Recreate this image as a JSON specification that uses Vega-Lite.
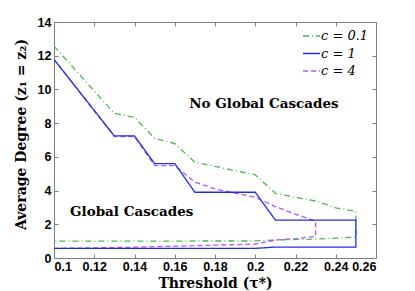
{
  "$schema": "https://vega.github.io/schema/vega-lite/v6.json",
  "autosize": {"type": "none"},
  "padding": {"left": 54, "top": 22, "right": 39, "bottom": 33},
  "width": 322,
  "height": 236,
  "background": "white",
  "config": {
    "view": {"stroke": null},
    "axis": {"grid": false, "domainColor": "#7f7f7f", "tickColor": "#7f7f7f", "domainWidth": 1, "tickWidth": 1, "labelFont": "Liberation Sans", "labelFontWeight": "bold", "labelFontSize": 12.5, "labelColor": "black", "titleFont": "DejaVu Serif", "titleFontWeight": "bold", "titleFontSize": 14, "titleColor": "black"}
  },
  "layer": [
    {
      "data": {"values": [
        {"c": "c = 0.1", "i": 1, "tau": 0.10, "z": 12.57},
        {"c": "c = 0.1", "i": 2, "tau": 0.13, "z": 8.58},
        {"c": "c = 0.1", "i": 3, "tau": 0.14, "z": 8.34},
        {"c": "c = 0.1", "i": 4, "tau": 0.15, "z": 7.1},
        {"c": "c = 0.1", "i": 5, "tau": 0.16, "z": 6.78},
        {"c": "c = 0.1", "i": 6, "tau": 0.17, "z": 5.68},
        {"c": "c = 0.1", "i": 7, "tau": 0.20, "z": 4.94},
        {"c": "c = 0.1", "i": 8, "tau": 0.21, "z": 3.84},
        {"c": "c = 0.1", "i": 9, "tau": 0.22, "z": 3.6},
        {"c": "c = 0.1", "i": 10, "tau": 0.23, "z": 3.38},
        {"c": "c = 0.1", "i": 11, "tau": 0.24, "z": 2.98},
        {"c": "c = 0.1", "i": 12, "tau": 0.25, "z": 2.77},
        {"c": "c = 0.1", "i": 13, "tau": 0.25, "z": 1.25},
        {"c": "c = 0.1", "i": 14, "tau": 0.24, "z": 1.18},
        {"c": "c = 0.1", "i": 15, "tau": 0.23, "z": 1.12},
        {"c": "c = 0.1", "i": 16, "tau": 0.21, "z": 1.07},
        {"c": "c = 0.1", "i": 17, "tau": 0.20, "z": 1.01},
        {"c": "c = 0.1", "i": 18, "tau": 0.10, "z": 1.0},
        {"c": "c = 4", "i": 1, "tau": 0.10, "z": 11.78},
        {"c": "c = 4", "i": 2, "tau": 0.13, "z": 7.2},
        {"c": "c = 4", "i": 3, "tau": 0.14, "z": 7.2},
        {"c": "c = 4", "i": 4, "tau": 0.15, "z": 5.48},
        {"c": "c = 4", "i": 5, "tau": 0.16, "z": 5.48},
        {"c": "c = 4", "i": 6, "tau": 0.17, "z": 4.5},
        {"c": "c = 4", "i": 7, "tau": 0.18, "z": 4.1},
        {"c": "c = 4", "i": 8, "tau": 0.19, "z": 3.85},
        {"c": "c = 4", "i": 9, "tau": 0.20, "z": 3.6},
        {"c": "c = 4", "i": 10, "tau": 0.21, "z": 3.05},
        {"c": "c = 4", "i": 11, "tau": 0.22, "z": 2.6},
        {"c": "c = 4", "i": 12, "tau": 0.23, "z": 2.18},
        {"c": "c = 4", "i": 13, "tau": 0.23, "z": 1.28},
        {"c": "c = 4", "i": 14, "tau": 0.22, "z": 1.15},
        {"c": "c = 4", "i": 15, "tau": 0.21, "z": 1.07},
        {"c": "c = 4", "i": 16, "tau": 0.20, "z": 0.83},
        {"c": "c = 4", "i": 17, "tau": 0.18, "z": 0.76},
        {"c": "c = 4", "i": 18, "tau": 0.16, "z": 0.7},
        {"c": "c = 4", "i": 19, "tau": 0.14, "z": 0.64},
        {"c": "c = 4", "i": 20, "tau": 0.12, "z": 0.6},
        {"c": "c = 4", "i": 21, "tau": 0.10, "z": 0.57},
        {"c": "c = 1", "i": 1, "tau": 0.10, "z": 11.78},
        {"c": "c = 1", "i": 2, "tau": 0.13, "z": 7.24},
        {"c": "c = 1", "i": 3, "tau": 0.14, "z": 7.24},
        {"c": "c = 1", "i": 4, "tau": 0.15, "z": 5.6},
        {"c": "c = 1", "i": 5, "tau": 0.16, "z": 5.6},
        {"c": "c = 1", "i": 6, "tau": 0.17, "z": 3.9},
        {"c": "c = 1", "i": 7, "tau": 0.20, "z": 3.9},
        {"c": "c = 1", "i": 8, "tau": 0.21, "z": 2.25},
        {"c": "c = 1", "i": 9, "tau": 0.25, "z": 2.25},
        {"c": "c = 1", "i": 10, "tau": 0.25, "z": 0.65},
        {"c": "c = 1", "i": 11, "tau": 0.21, "z": 0.65},
        {"c": "c = 1", "i": 12, "tau": 0.20, "z": 0.57},
        {"c": "c = 1", "i": 13, "tau": 0.10, "z": 0.57}
      ]},
      "mark": {"type": "line", "strokeWidth": 1.3, "clip": true},
      "encoding": {
        "x": {"field": "tau", "type": "quantitative", "scale": {"domain": [0.1, 0.26], "nice": false, "zero": false},
          "axis": {"orient": "bottom", "values": [0.1, 0.12, 0.14, 0.16, 0.18, 0.2, 0.22, 0.24, 0.26], "format": ".2~f", "tickSize": -4, "labelPadding": 6, "title": "Threshold (τ*)", "titleX": 161, "titleY": 25, "titleBaseline": "middle", "titleAlign": "center"}},
        "y": {"field": "z", "type": "quantitative", "scale": {"domain": [0, 14], "nice": false},
          "axis": {"orient": "left", "values": [0, 2, 4, 6, 8, 10, 12, 14], "tickSize": -4, "labelPadding": 7, "title": "Average Degree (z₁ = z₂)", "titleX": -33, "titleY": 112, "titleBaseline": "middle", "titleAlign": "center", "titleAngle": -90}},
        "color": {"field": "c", "type": "nominal", "scale": {"domain": ["c = 0.1", "c = 1", "c = 4"], "range": ["#4cb84c", "#1f2fe6", "#b055ff"]},
          "legend": {"orient": "none", "legendX": 248, "legendY": 4.5, "title": null, "symbolType": "stroke", "symbolSize": 289, "symbolStrokeWidth": 1.5, "labelFont": "DejaVu Serif", "labelFontStyle": "italic", "labelFontSize": 13, "labelColor": "black", "labelOffset": 0, "rowPadding": 0.5, "padding": 0}},
        "strokeDash": {"field": "c", "type": "nominal", "scale": {"domain": ["c = 0.1", "c = 1", "c = 4"], "range": [[6, 3, 1, 3], [1, 0], [5, 3]]},
          "legend": {"orient": "none", "legendX": 248, "legendY": 4.5, "title": null}},
        "order": {"field": "i", "type": "quantitative"}
      }
    },
    {
      "data": {"values": [
        {"label": "No Global Cascades", "tau": 0.2043, "z": 9.14},
        {"label": "Global Cascades", "tau": 0.1386, "z": 2.75}
      ]},
      "mark": {"type": "text", "font": "DejaVu Serif", "fontWeight": "bold", "fontSize": 13.5, "align": "center", "baseline": "middle", "color": "black"},
      "encoding": {
        "x": {"field": "tau", "type": "quantitative", "axis": {"orient": "top", "values": [0.1, 0.12, 0.14, 0.16, 0.18, 0.2, 0.22, 0.24, 0.26], "labels": false, "tickSize": -4, "title": null}},
        "y": {"field": "z", "type": "quantitative", "axis": {"orient": "right", "values": [0, 2, 4, 6, 8, 10, 12, 14], "labels": false, "tickSize": -4, "title": null}},
        "text": {"field": "label"}
      }
    }
  ],
  "resolve": {"axis": {"x": "independent", "y": "independent"}}
}
